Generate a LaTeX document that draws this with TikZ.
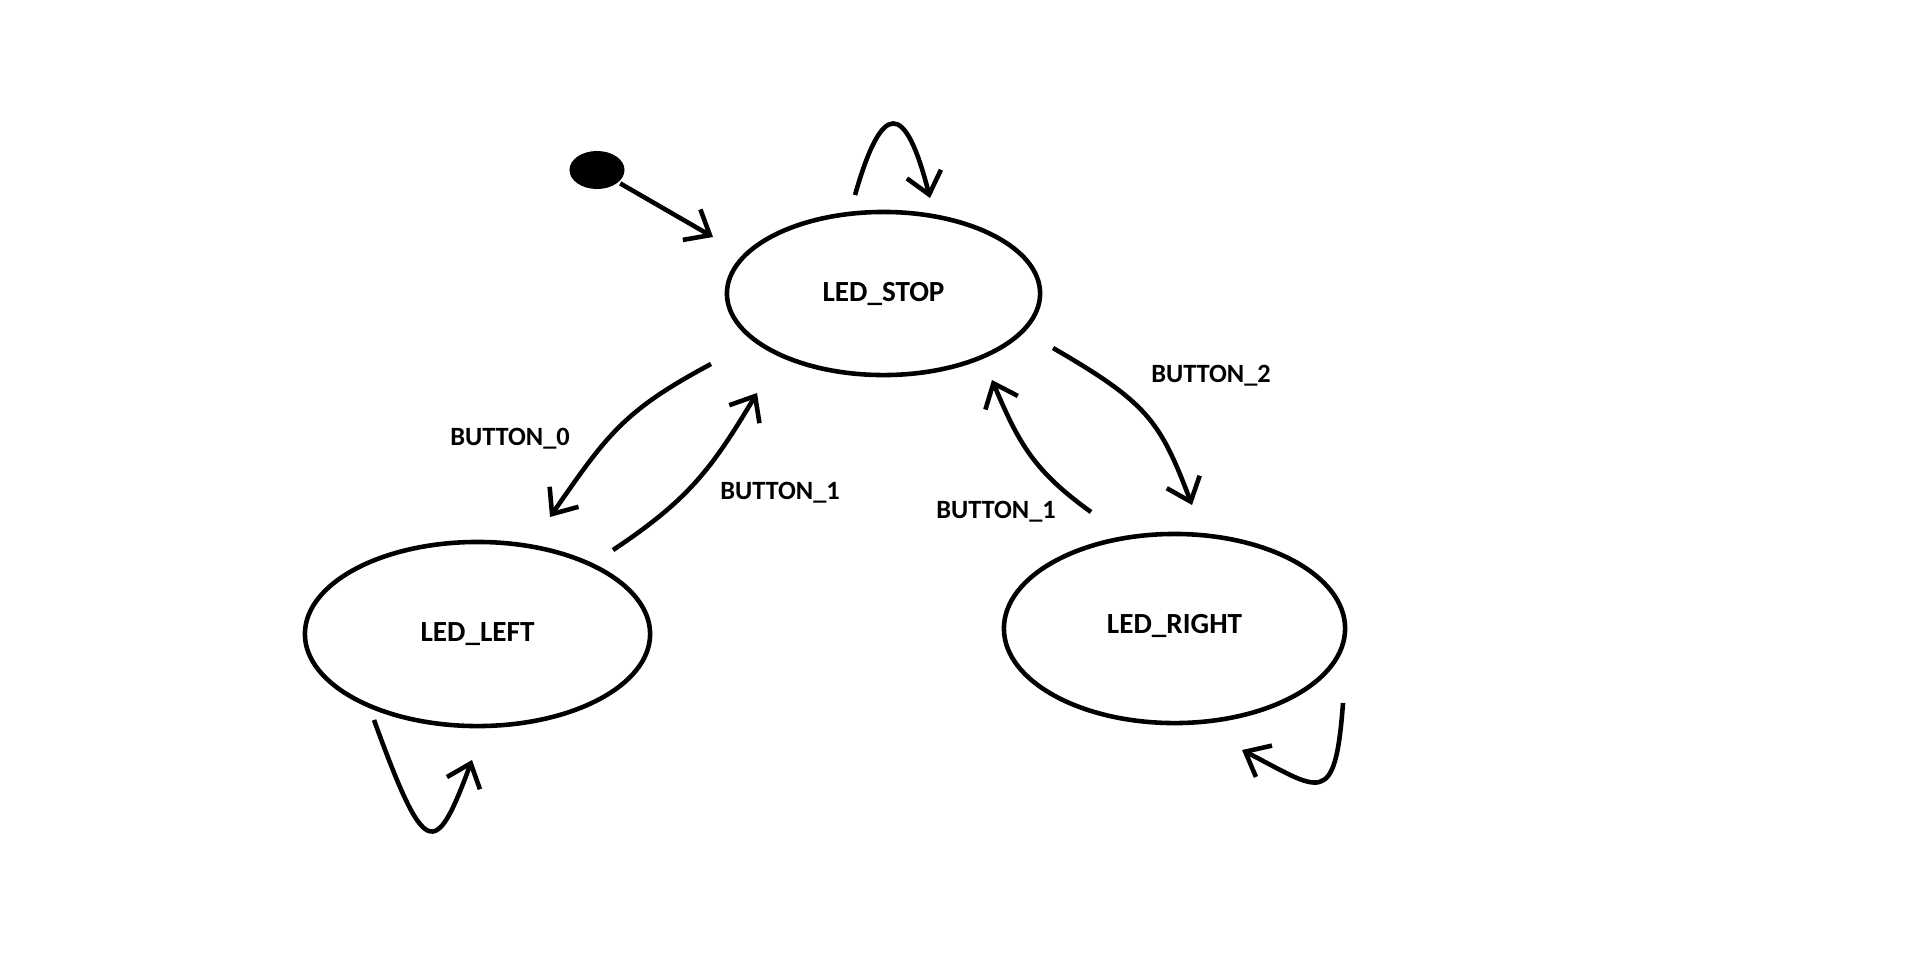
\documentclass[tikz,border=0pt]{standalone}
\usepackage{fontspec}
\setmainfont{Carlito}
\usetikzlibrary{shapes.geometric,arrows.meta}

\tikzstyle{every path} = [line width=1.3pt,black]
\tikzstyle{state} = [ellipse, draw, inner sep=0pt, font=\fontsize{8.3}{10}\selectfont\bfseries]
\tikzstyle{guard} = [inner sep=0pt, font=\fontsize{7.5}{9}\selectfont\bfseries]
\tikzstyle{trans} = [-{Straight Barb[length=6pt,width=10pt]}]

\begin{document}
\begin{tikzpicture}[x=0.01cm, y=-0.01cm]
    \useasboundingbox (0,0) rectangle (1913,957);

    % States
    \node[state, minimum width=3.13cm, minimum height=1.63cm] (stop) at (883.5,293.5) {LED\_STOP};
    \node[state, minimum width=3.45cm, minimum height=1.84cm] (left) at (477.5,634) {LED\_LEFT};
    \node[state, minimum width=3.41cm, minimum height=1.89cm, text depth=0.1cm] (right) at (1174.5,628.5) {LED\_RIGHT};
    \node[ellipse, fill, inner sep=0pt, minimum width=0.55cm, minimum height=0.38cm] (init) at (597,170) {};

    % Free ends
    \coordinate (i1) at (713,237);
    \coordinate (s0) at (855,195);   \coordinate (s1) at (930,198);
    \coordinate (l0) at (374,720);   \coordinate (l1) at (472,760);
    \coordinate (r0) at (1343,703);  \coordinate (r1) at (1242,750);
    \coordinate (a0) at (711,364);   \coordinate (a1) at (550,517);
    \coordinate (b0) at (613,550);   \coordinate (b1) at (757,393);
    \coordinate (c0) at (1053,348);  \coordinate (c1) at (1192,505);
    \coordinate (d0) at (1091,512);  \coordinate (d1) at (992,380);

    % Initial transition
    \draw[trans] (init) -- (i1);

    % Self loops
    \draw[trans] (s0) .. controls (882,100) and (905,100) .. (s1);
    \draw[trans] (l0) .. controls (425,860) and (435,860) .. (l1);
    \draw[trans] (r0) .. controls (1335,810) and (1320,790) .. (r1);

    % Transitions between states
    \draw[trans] (a0) .. controls (623,411) and (607,435) .. (a1);
    \draw[trans] (b0) .. controls (688,500) and (711,470) .. (b1);
    \draw[trans] (c0) .. controls (1148,403) and (1160,421) .. (c1);
    \draw[trans] (d0) .. controls (1034,471) and (1019,444) .. (d1);

    % Labels
    \node[guard] (g0) at (510,439) {BUTTON\_0};
    \node[guard] (g1) at (780,493) {BUTTON\_1};
    \node[guard] (g2) at (1211,376) {BUTTON\_2};
    \node[guard] (g3) at (996,512) {BUTTON\_1};
\end{tikzpicture}
\end{document}
